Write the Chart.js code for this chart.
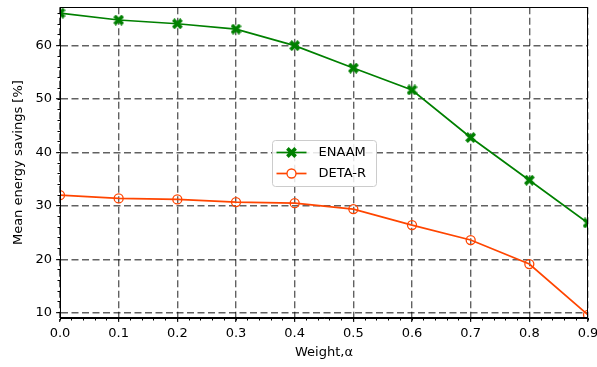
<!DOCTYPE html>
<html>
<head>
<meta charset="utf-8">
<script src="https://cdn.jsdelivr.net/npm/chart.js@4.4.1/dist/chart.umd.min.js"></script>
<style>
  html, body { margin: 0; padding: 0; background: #fff; }
</style>
</head>
<body>
<canvas id="chart" width="597" height="367"></canvas>
<script>
// data
const weights = [0.0, 0.1, 0.2, 0.3, 0.4, 0.5, 0.6, 0.7, 0.8, 0.9];
const enaam = [66.1, 64.8, 64.1, 63.1, 60.0, 55.8, 51.7, 42.8, 34.8, 26.8];
const detaR = [32.0, 31.4, 31.2, 30.7, 30.5, 29.4, 26.4, 23.6, 19.1, 9.6];
const xTicks = [0.0, 0.1, 0.2, 0.3, 0.4, 0.5, 0.6, 0.7, 0.8, 0.9];
const yTicks = [10, 20, 30, 40, 50, 60];
const xMinorTicks = Array.from({ length: 46 }, (_, i) => +(i * 0.02).toFixed(2));
const yMinorTicks = Array.from({ length: 30 }, (_, i) => 10 + i * 2).filter(v => v <= 66);

Chart.defaults.font.family = "'DejaVu Sans', sans-serif";
Chart.defaults.font.size = 13;
Chart.defaults.color = '#000';

// filled "X" marker like matplotlib
function makeX(color, size, lw) {
  const c = document.createElement('canvas');
  c.width = size; c.height = size;
  const g = c.getContext('2d');
  g.strokeStyle = color;
  g.lineWidth = lw;
  const p = lw / 2.6, q = size - p;
  g.beginPath();
  g.moveTo(p, p); g.lineTo(q, q);
  g.moveTo(q, p); g.lineTo(p, q);
  g.stroke();
  return c;
}
const xMark = makeX('#008000', 11, 3.6);

const framePlugin = {
  id: 'frame',
  afterDraw(chart) {
    const { ctx, chartArea: a } = chart;
    ctx.save();
    ctx.strokeStyle = '#000';
    ctx.lineWidth = 1;
    ctx.strokeRect(Math.round(a.left) + 0.5, Math.round(a.top) + 0.5,
      Math.round(a.right - a.left) - 1, Math.round(a.bottom - a.top) - 1);

    // legend box in the middle of the plot
    const w = 104, h = 46;
    const cx = (a.left + a.right) / 2, cy = (a.top + a.bottom) / 2;
    const x0 = Math.round(cx - w / 2) + 0.5, y0 = Math.round(cy - h / 2) + 0.5;
    ctx.fillStyle = 'rgba(255,255,255,0.85)';
    ctx.strokeStyle = '#cccccc';
    ctx.beginPath();
    ctx.roundRect(x0, y0, w, h, 3);
    ctx.fill();
    ctx.stroke();
    ctx.font = "13px 'DejaVu Sans', sans-serif";
    ctx.textBaseline = 'middle';
    chart.data.datasets.forEach((ds, i) => {
      const ly = y0 + 12 + i * 21;
      ctx.strokeStyle = ds.borderColor;
      ctx.lineWidth = ds.borderWidth;
      ctx.beginPath();
      ctx.moveTo(x0 + 4, ly); ctx.lineTo(x0 + 34, ly);
      ctx.stroke();
      if (ds.pointStyle === 'circle') {
        ctx.beginPath();
        ctx.arc(x0 + 19, ly, 4.5, 0, Math.PI * 2);
        ctx.fillStyle = '#fff';
        ctx.fill();
        ctx.lineWidth = 1.3;
        ctx.stroke();
      } else {
        const s = ds.pointStyle.width;
        ctx.drawImage(ds.pointStyle, x0 + 19 - s / 2, ly - s / 2);
      }
      ctx.fillStyle = '#000';
      ctx.fillText(ds.label, x0 + 46, ly);
    });
    ctx.restore();
  }
};

const gridOpts = { color: 'rgba(0,0,0,0.62)', tickColor: '#000', tickLength: 4, lineWidth: 1.4, tickWidth: 1 };

new Chart(document.getElementById('chart'), {
  type: 'line',
  data: {
    datasets: [{
      label: 'ENAAM',
      data: weights.map((w, i) => ({ x: w, y: enaam[i] })),
      borderColor: '#008000',
      backgroundColor: '#008000',
      borderWidth: 1.7,
      pointStyle: xMark,
      pointRadius: 5.5,
      clip: 0
    }, {
      label: 'DETA-R',
      data: weights.map((w, i) => ({ x: w, y: detaR[i] })),
      borderColor: '#FF4500',
      backgroundColor: 'rgba(0,0,0,0)',
      borderWidth: 1.7,
      pointStyle: 'circle',
      pointRadius: 4.5,
      pointBorderWidth: 1.3,
      clip: 0
    }]
  },
  options: {
    responsive: false,
    animation: false,
    events: [],
    layout: { padding: { left: 0, top: 6, right: 9, bottom: 0 } },
    plugins: { legend: { display: false }, tooltip: { enabled: false } },
    scales: {
      x: {
        type: 'linear',
        min: 0, max: 0.9,
        weight: 1,
        afterBuildTicks: s => { s.ticks = xTicks.map(v => ({ value: v })); },
        afterFit: s => { s.height = 49; s.paddingLeft = 0; s.paddingRight = 0; },
        ticks: { padding: 4, maxRotation: 0, callback: v => Number(v).toFixed(1) },
        grid: gridOpts,
        border: { display: true, color: '#000', width: 1, dash: [7, 3.5] },
        title: { display: true, text: 'Weight,α', padding: { top: 0, bottom: 7 } }
      },
      y: {
        type: 'linear',
        min: 9.0, max: 67.2,
        weight: 1,
        afterBuildTicks: s => { s.ticks = yTicks.map(v => ({ value: v })); },
        afterFit: s => { s.width = 60; s.paddingTop = 0; s.paddingBottom = 0; },
        ticks: { padding: 4 },
        grid: gridOpts,
        border: { display: true, color: '#000', width: 1, dash: [7, 3.5] },
        title: { display: true, text: 'Mean energy savings [%]', padding: { top: 11, bottom: 0 } }
      },
      xMinor: {
        type: 'linear',
        position: 'bottom',
        min: 0, max: 0.9,
        weight: 0,
        afterBuildTicks: s => { s.ticks = xMinorTicks.map(v => ({ value: v })); },
        afterFit: s => { s.height = 0; s.paddingLeft = 0; s.paddingRight = 0; },
        ticks: { display: false, autoSkip: false },
        grid: { drawOnChartArea: false, tickColor: '#000', tickLength: 2.5 },
        border: { display: false }
      },
      yMinor: {
        type: 'linear',
        position: 'left',
        min: 9.0, max: 67.2,
        weight: 0,
        afterBuildTicks: s => { s.ticks = yMinorTicks.map(v => ({ value: v })); },
        afterFit: s => { s.width = 0; s.paddingTop = 0; s.paddingBottom = 0; },
        ticks: { display: false, autoSkip: false },
        grid: { drawOnChartArea: false, tickColor: '#000', tickLength: 2.5 },
        border: { display: false }
      }
    }
  },
  plugins: [framePlugin]
});
</script>
</body>
</html>
